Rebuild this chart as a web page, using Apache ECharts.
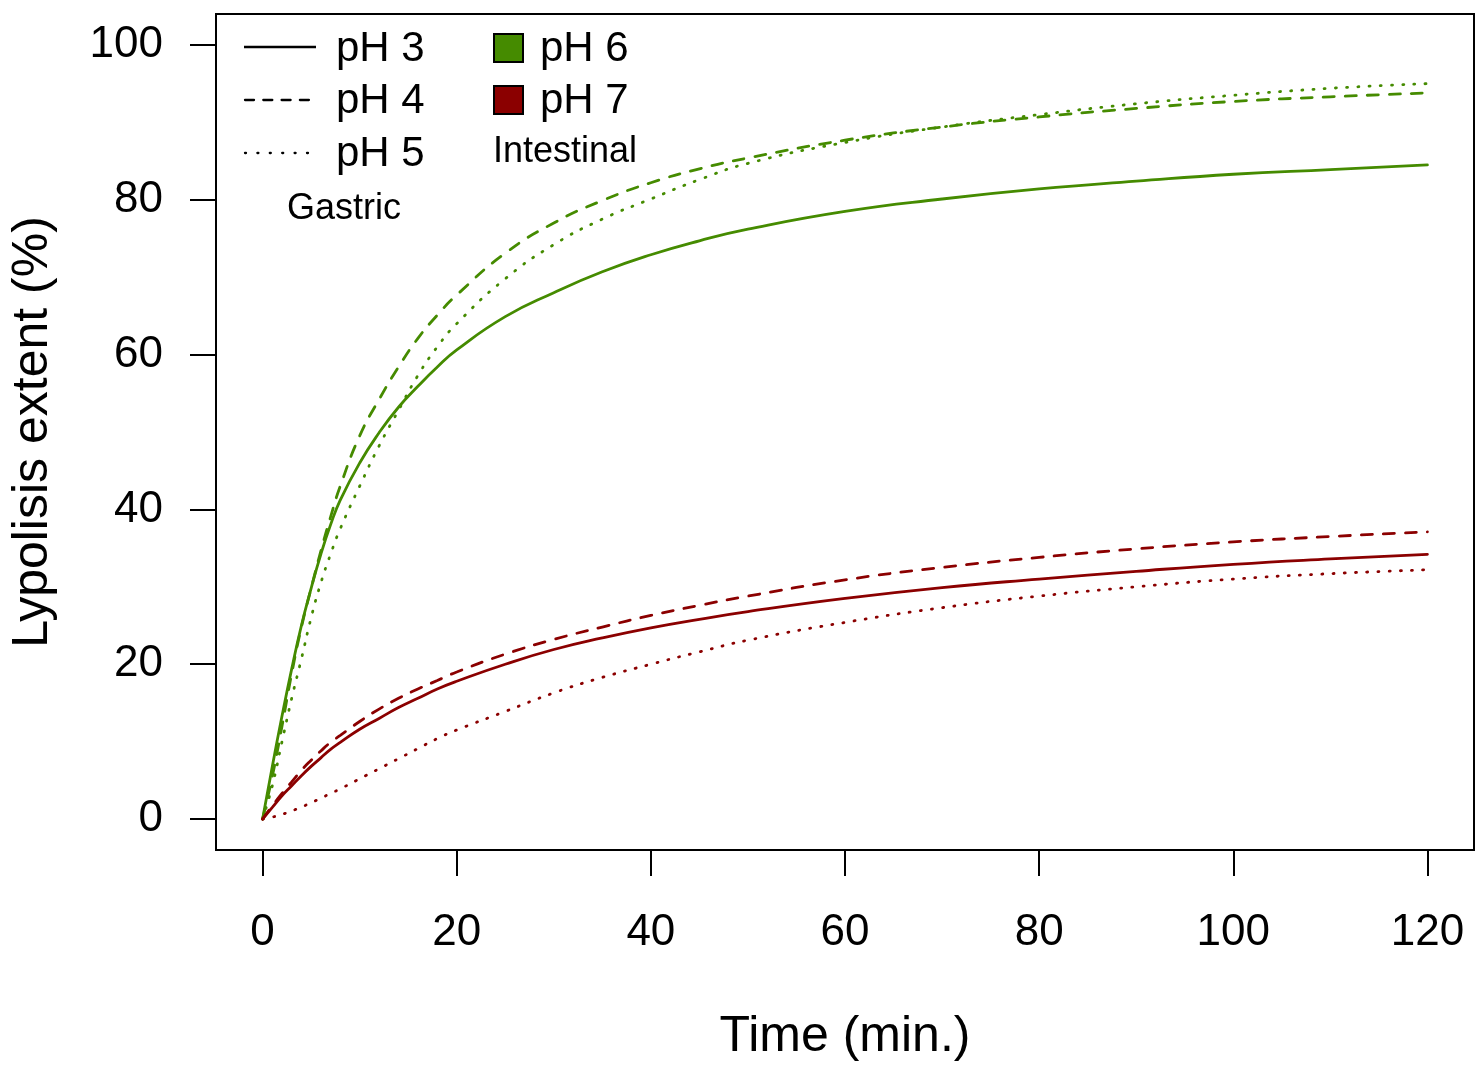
<!DOCTYPE html>
<html>
<head>
<meta charset="utf-8">
<script src="https://cdn.jsdelivr.net/npm/echarts@6/dist/echarts.min.js"></script>
<style>
html,body{margin:0;padding:0;background:#fff;overflow:hidden;}
#chart{width:1476px;height:1065px;}
</style>
</head>
<body>
<div id="chart"></div>
<script>
// Time points (min.)
const time = [0,1,2,3,4,5,6,7,8,10,12,14,16,18,20,25,30,35,40,45,50,60,70,80,90,100,110,120];
// Intestinal pH 6 (green)
const pH6_gastric3 = [0,6.8,13.3,19.4,25.0,29.8,34.2,38.0,41.2,46.0,49.9,53.2,55.9,58.4,60.6,64.9,68.0,70.7,72.9,74.7,76.2,78.5,80.1,81.4,82.4,83.3,83.9,84.5];
const pH6_gastric4 = [0,5.5,12.0,18.8,24.8,29.8,34.6,39.0,43.0,49.5,54.2,58.4,62.1,65.1,67.7,73.1,77.0,79.9,82.2,84.0,85.4,87.7,89.4,90.7,91.8,92.7,93.3,93.8];
const pH6_gastric5 = [0,4.3,10.0,15.6,20.7,26.0,30.5,34.2,37.5,43.0,48.2,52.8,57.3,61.0,64.0,69.8,74.2,77.5,80.1,82.6,84.7,87.4,89.4,91.0,92.4,93.5,94.4,95.0];
// Intestinal pH 7 (red)
const pH7_gastric3 = [0,1.5,3.0,4.3,5.6,6.8,7.9,9.0,9.9,11.6,13.0,14.4,15.6,16.8,17.8,20.0,21.9,23.4,24.7,25.8,26.8,28.5,29.9,31.0,32.0,32.9,33.6,34.2];
const pH7_gastric4 = [0,1.7,3.3,4.8,6.3,7.6,8.8,9.9,10.8,12.6,14.2,15.6,16.8,17.9,19.0,21.3,23.2,24.8,26.3,27.6,28.8,30.9,32.5,33.8,34.9,35.8,36.5,37.1];
const pH7_gastric5 = [0,0.25,0.6,1.05,1.55,2.1,2.7,3.3,3.9,5.2,6.5,7.8,9.1,10.4,11.5,13.9,16.3,18.3,20.0,21.6,23.1,25.4,27.3,28.8,30.0,31.0,31.7,32.2];

const xTicks = [0,20,40,60,80,100,120];
const yTicks = [0,20,40,60,80,100];

const GREEN = '#458B00';
const RED = '#8B0000';
const FONT = '"Liberation Sans", Arial, Helvetica, sans-serif';

const DASH = [11, 11];
const DOT = [1, 10.2];

function pairs(ys){ return time.map((t,i)=>[t, ys[i]]); }

function line(name, ys, color, type){
  return {
    name: name, type: 'line', data: pairs(ys), smooth: 0.5,
    showSymbol: false, symbol: 'none', silent: true,
    lineStyle: {color: color, width: 2.8, type: type, cap: 'round'}
  };
}

const chart = echarts.init(document.getElementById('chart'), null, {renderer: 'canvas'});
chart.setOption({
  animation: false,
  backgroundColor: '#fff',
  grid: {left: 216, right: 2, top: 14, bottom: 215, show: true, borderColor: '#000', borderWidth: 2,
         backgroundColor: 'transparent', containLabel: false, outerBoundsMode: 'none'},
  xAxis: {
    type: 'value', min: -4.8, max: 124.8,
    name: 'Time (min.)', nameLocation: 'middle', nameGap: 162,
    nameTextStyle: {fontFamily: FONT, fontSize: 50, color: '#000'},
    axisLine: {show: false, onZero: false},
    axisTick: {show: true, inside: false, length: 26, customValues: xTicks, lineStyle: {color: '#000', width: 2}},
    axisLabel: {customValues: xTicks, margin: 61, fontFamily: FONT, fontSize: 44, color: '#000'},
    splitLine: {show: false}
  },
  yAxis: {
    type: 'value', min: -4, max: 104,
    name: 'Lypolisis extent (%)', nameLocation: 'middle', nameGap: 158, nameRotate: 90,
    nameTextStyle: {fontFamily: FONT, fontSize: 50, color: '#000'},
    axisLine: {show: false, onZero: false},
    axisTick: {show: true, inside: false, length: 26, customValues: yTicks, lineStyle: {color: '#000', width: 2}},
    axisLabel: {customValues: yTicks, margin: 53, fontFamily: FONT, fontSize: 44, color: '#000'},
    splitLine: {show: false}
  },
  series: [
    line('pH 6 / pH 3', pH6_gastric3, GREEN, 'solid'),
    line('pH 6 / pH 4', pH6_gastric4, GREEN, DASH),
    line('pH 6 / pH 5', pH6_gastric5, GREEN, DOT),
    line('pH 7 / pH 3', pH7_gastric3, RED, 'solid'),
    line('pH 7 / pH 4', pH7_gastric4, RED, DASH),
    line('pH 7 / pH 5', pH7_gastric5, RED, DOT)
  ],
  graphic: [
    {type: 'line', shape: {x1: 244, y1: 47, x2: 316, y2: 47}, style: {stroke: '#000', lineWidth: 2.3}},
    {type: 'line', shape: {x1: 245, y1: 100, x2: 316, y2: 100}, style: {stroke: '#000', lineWidth: 2.3, lineDash: [9, 9.3], lineCap: 'round'}},
    {type: 'line', shape: {x1: 245, y1: 153, x2: 316, y2: 153}, style: {stroke: '#000', lineWidth: 2.3, lineDash: [1, 11.4], lineCap: 'round'}},
    {type: 'text', x: 336, y: 49, style: {text: 'pH 3', font: '42px ' + FONT, fill: '#000', verticalAlign: 'middle'}},
    {type: 'text', x: 336, y: 101, style: {text: 'pH 4', font: '42px ' + FONT, fill: '#000', verticalAlign: 'middle'}},
    {type: 'text', x: 336, y: 154, style: {text: 'pH 5', font: '42px ' + FONT, fill: '#000', verticalAlign: 'middle'}},
    {type: 'text', x: 287, y: 209, style: {text: 'Gastric', font: '36px ' + FONT, fill: '#000', verticalAlign: 'middle'}},
    {type: 'rect', shape: {x: 494, y: 34, width: 29, height: 28}, style: {fill: GREEN, stroke: '#000', lineWidth: 2}},
    {type: 'rect', shape: {x: 494, y: 86, width: 29, height: 28}, style: {fill: RED, stroke: '#000', lineWidth: 2}},
    {type: 'text', x: 540, y: 49, style: {text: 'pH 6', font: '42px ' + FONT, fill: '#000', verticalAlign: 'middle'}},
    {type: 'text', x: 540, y: 101, style: {text: 'pH 7', font: '42px ' + FONT, fill: '#000', verticalAlign: 'middle'}},
    {type: 'text', x: 493, y: 152, style: {text: 'Intestinal', font: '36px ' + FONT, fill: '#000', verticalAlign: 'middle'}}
  ]
});
</script>
</body>
</html>
